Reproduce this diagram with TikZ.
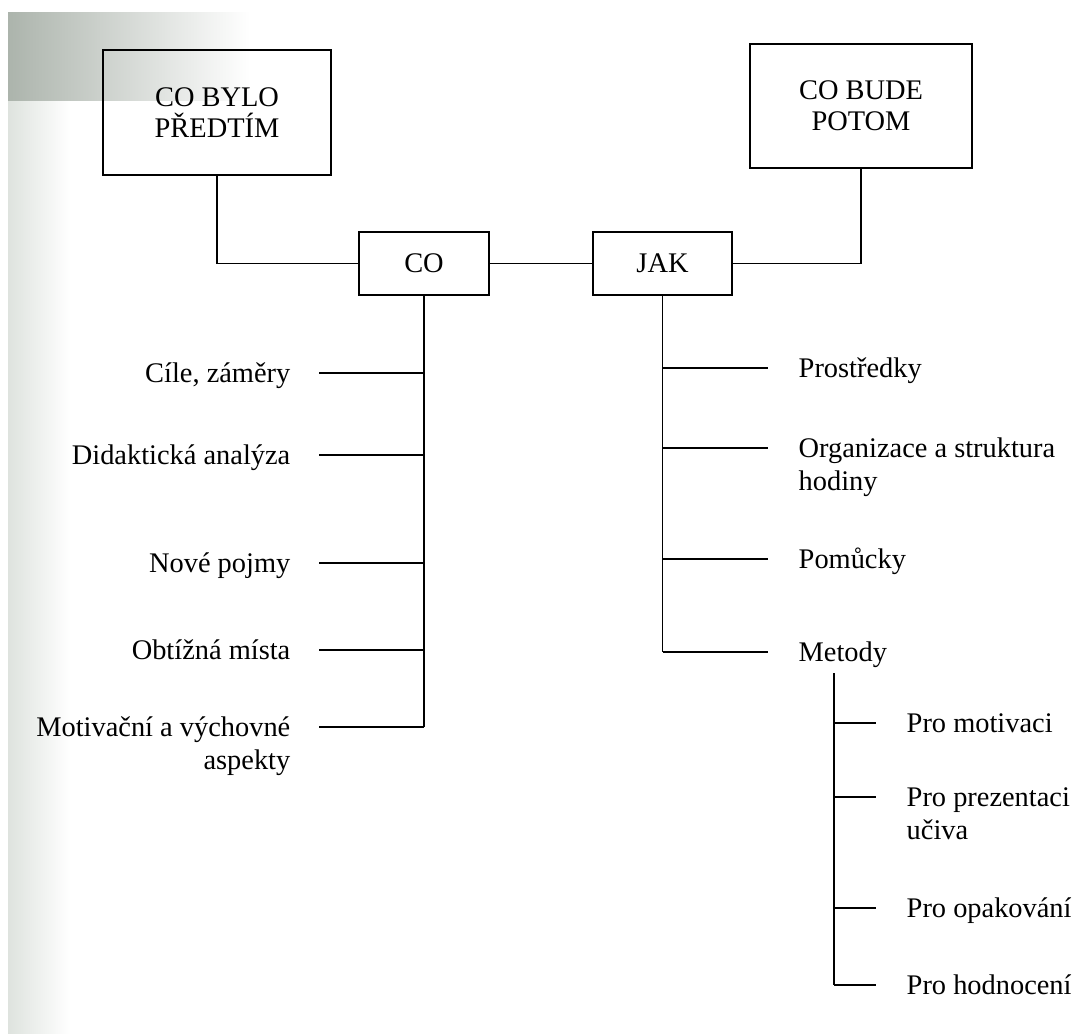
\documentclass[tikz,border=0pt]{standalone}
\usepackage{fontspec}
\setmainfont{Liberation Serif}
\definecolor{scangray}{RGB}{172,180,172}
\definecolor{scanlight}{RGB}{222,227,222}
\begin{document}
\begin{tikzpicture}[x=0.5pt, y=-0.5pt, line width=0.7pt,
    box/.style = {draw, align=center, inner sep=0pt, font=\fontsize{14.2}{15.5}\selectfont},
    labl/.style = {anchor=base east, align=right, inner ysep=0pt, inner xsep=14pt, font=\fontsize{14.2}{16.5}\selectfont},
    labr/.style = {anchor=base west, align=left, inner ysep=0pt, inner xsep=15pt, font=\fontsize{14.2}{16.5}\selectfont}]
    \useasboundingbox (0,0) rectangle (1081,1033);
    % scan shadow
    \shade[left color=scanlight, right color=white] (8,12) rectangle (70,1033);
    \shade[left color=scangray, middle color=scangray!55!white, right color=white] (8,12) rectangle (250,100);
    % boxes
    \node[box, minimum width=114pt, minimum height=62.5pt] (bylo) at (217,112.5) {CO BYLO\\PŘEDTÍM};
    \node[box, minimum width=111pt, minimum height=62pt] (potom) at (861,106) {CO BUDE\\POTOM};
    \node[box, minimum width=65pt, minimum height=31.5pt] (co) at (424,263.5) {CO};
    \node[box, minimum width=69.5pt, minimum height=31.5pt] (jak) at (662.5,263.5) {JAK};
    \draw (bylo.south) |- (co.west);
    \draw (co.east) -- (jak.west);
    \draw (jak.east) -| (potom.south);
    % CO branch (base = last line, \n extra lines)
    \foreach \y/\n/\t [count=\i] in {373/0/{Cíle, záměry}, 455/0/{Didaktická analýza}, 563/0/{Nové pojmy}, 650/0/{Obtížná místa}, 727/1/{Motivační a výchovné\\aspekty}} {
        \coordinate (cj\i) at (424,\y);
        \node[labl] (cl\i) at (319,\y+9+33*\n) {\t};
        \draw (cj\i) -- (cj\i -| cl\i.east);
    }
    \draw (co.south) -- (cj5);
    % JAK branch
    \foreach \y/\n/\t [count=\i] in {368/0/{Prostředky}, 448/1/{Organizace a struktura\\hodiny}, 559/0/{Pomůcky}, 652/0/{Metody}} {
        \coordinate (rj\i) at (662.5,\y);
        \node[labr] (rl\i) at (768,\y+9+33*\n) {\t};
        \draw (rj\i) -- (rj\i -| rl\i.west);
    }
    \draw (jak.south) -- (rj4);
    % Metody branch
    \coordinate (mtop) at (834,673);
    \foreach \y/\n/\t [count=\i] in {723/0/{Pro motivaci}, 797/1/{Pro prezentaci\\učiva}, 908/0/{Pro opakování}, 985/0/{Pro hodnocení}} {
        \coordinate (sj\i) at (834,\y);
        \node[labr] (sl\i) at (876,\y+9+33*\n) {\t};
        \draw (sj\i) -- (sj\i -| sl\i.west);
    }
    \draw (mtop) -- (sj4);
\end{tikzpicture}
\end{document}
